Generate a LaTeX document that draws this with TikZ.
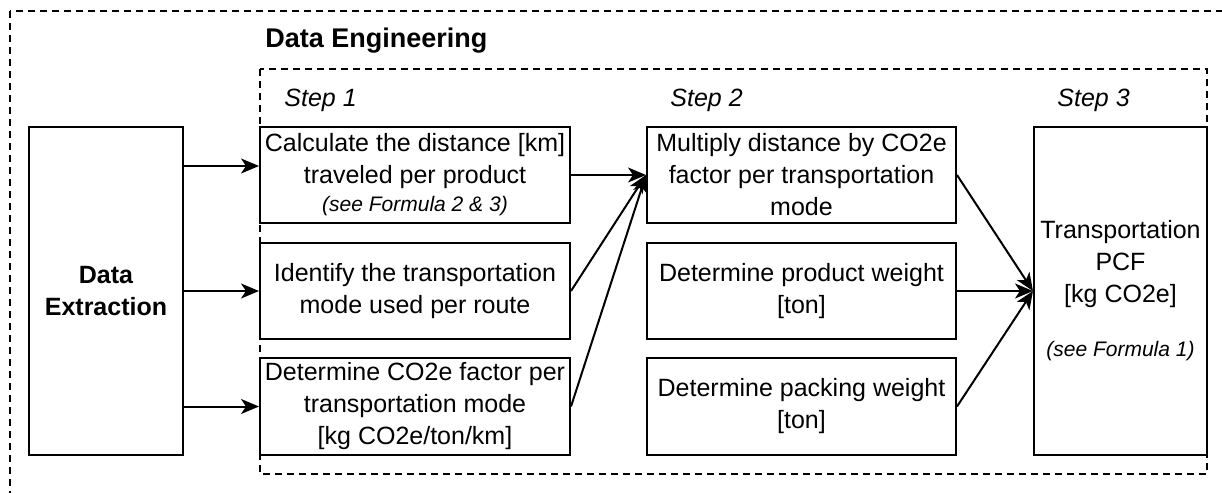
\documentclass[tikz,border=0pt]{standalone}
\usepackage{fontspec}
\setmainfont{Liberation Sans}
\usetikzlibrary{arrows.meta}

\newlength{\du}
\setlength{\du}{0.5pt}
\definecolor{dialinecolor}{rgb}{0.000000, 0.000000, 0.000000}
\definecolor{diafillcolor}{rgb}{1.000000, 1.000000, 1.000000}
\newcommand{\diatext}{\fontsize{12.5}{16}\selectfont}
\newcommand{\diasmall}{\fontsize{10.5}{13}\selectfont\itshape}

\tikzset{
  diabox/.style={draw=dialinecolor, fill=diafillcolor, line width=2\du,
    inner sep=0pt, align=center, font=\diatext, text=dialinecolor},
  diagroup/.style={draw=dialinecolor, line width=2\du, dash pattern=on 7\du off 5\du},
  diaarrow/.style={draw=dialinecolor, line width=2\du,
    -{Stealth[length=9pt, width=7.5pt, inset=2.5pt]}},
  steplabel/.style={anchor=west, inner sep=0pt, font=\diatext\itshape},
}

\begin{document}
\begin{tikzpicture}[even odd rule]
\pgftransformxscale{1.000000}
\pgftransformyscale{-1.000000}
\useasboundingbox (0\du,0\du) rectangle (1222\du,493\du);
\clip (0\du,0\du) rectangle (1222\du,493\du);
% dashed groups
\draw[diagroup] (10\du,11\du) rectangle (1232\du,493.5\du);
\draw[diagroup] (260\du,69\du) rectangle (1207\du,474\du);
\node[anchor=west, inner sep=0pt, font=\fontsize{13.5}{16}\selectfont\bfseries] (eng) at (265\du,41\du) {Data Engineering};
\node[steplabel] (s1) at (284\du,100\du) {Step 1};
\node[steplabel] (s2) at (670\du,100\du) {Step 2};
\node[steplabel] (s3) at (1057\du,100\du) {Step 3};
% extraction
\node[diabox, minimum width=154\du, minimum height=328\du, font=\diatext\bfseries] (extract) at (106\du,291\du) {Data\\Extraction};
% step 1
\node[diabox, minimum width=310\du, minimum height=96\du] (calc) at (415\du,175\du) {Calculate the distance [km]\\traveled per product\\[-2pt]{\diasmall (see Formula 2 \& 3)}};
\node[diabox, minimum width=310\du, minimum height=96\du] (ident) at (415\du,291\du) {Identify the transportation\\mode used per route};
\node[diabox, minimum width=310\du, minimum height=97\du] (cofac) at (415\du,406.5\du) {Determine CO2e factor per\\transportation mode\\{[kg CO2e/ton/km]}};
% step 2
\node[diabox, minimum width=309\du, minimum height=96\du] (multi) at (801.5\du,175\du) {Multiply distance by CO2e\\factor per transportation\\mode};
\node[diabox, minimum width=309\du, minimum height=96\du] (prodw) at (801.5\du,291\du) {Determine product weight\\{[ton]}};
\node[diabox, minimum width=309\du, minimum height=97\du] (packw) at (801.5\du,406.5\du) {Determine packing weight\\{[ton]}};
% step 3
\node[diabox, minimum width=173\du, minimum height=328\du] (pcf) at (1120.5\du,291\du) {Transportation\\PCF\\{[kg CO2e]}\\[11pt]{\diasmall (see Formula 1)}};
% connectors
\coordinate (r1) at (0\du,166\du);
\draw[diaarrow] (extract.east |- r1) -- (calc.west |- r1);
\draw[diaarrow] (extract.east |- ident.west) -- (ident.west);
\draw[diaarrow] (extract.east |- cofac.west) -- (cofac.west);
\draw[diaarrow] (calc.east) -- (multi.west);
\draw[diaarrow] (ident.east) -- (multi.west);
\draw[diaarrow] (cofac.east) -- (multi.west);
\draw[diaarrow] (multi.east) -- (pcf.west);
\draw[diaarrow] (prodw.east) -- (pcf.west);
\draw[diaarrow] (packw.east) -- (pcf.west);
\end{tikzpicture}
\end{document}
